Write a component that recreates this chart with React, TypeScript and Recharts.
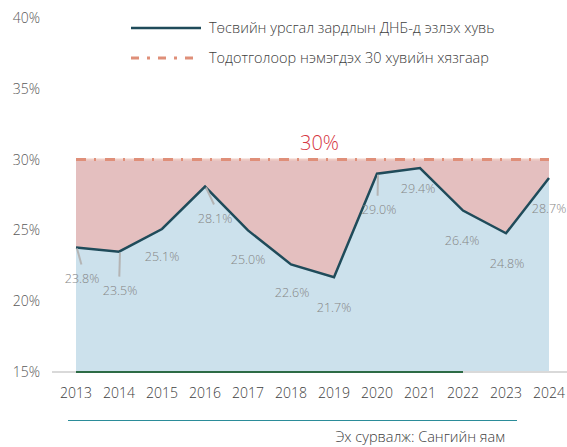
import { ComposedChart, Area, Line, XAxis, YAxis, ReferenceLine, LabelList } from 'recharts';

const years = ['2013', '2014', '2015', '2016', '2017', '2018', '2019', '2020', '2021', '2022', '2023', '2024'];
const shareOfGdp = [23.8, 23.5, 25.1, 28.1, 25.0, 22.6, 21.7, 29.0, 29.4, 26.4, 24.8, 28.7];
const limitValue = 30;
const baseYears = ['2013', '2014', '2015', '2016', '2017', '2018', '2019', '2020', '2021', '2022'];
const yTicks = [15, 20, 25, 30, 35, 40];

// label placement per point: [dx, dy, leader]
const labelOffsets: [number, number, boolean][] = [
  [6, 31, true], [1, 39, true], [0, 28, false], [10, 32, true],
  [0, 29, false], [1, 28, false], [0, 30, false], [2, 36, true],
  [-2, 20, false], [-1, 30, false], [1, 30, false], [0, 30, false],
];

const data = years.map((year, i) => ({
  year,
  value: shareOfGdp[i],
  gap: [shareOfGdp[i], limitValue],
  limit: limitValue,
  base: baseYears.includes(year) ? 15 : null,
}));

const font = '"Open Sans", "Noto Sans", sans-serif';

function PointLabel(props: any) {
  const { x, y, value, index } = props;
  const [dx, dy, leader] = labelOffsets[index];
  const lx = x + dx;
  const ly = y + dy;
  return (
    <g>
      {leader && (
        <line x1={x + 1} y1={y + 1} x2={x + (dx > 3 ? dx * 0.9 : dx * 0.3)} y2={ly - 14} stroke="#b4b4b4" strokeWidth={2} />
      )}
      <text x={lx} y={ly} textAnchor="middle" dominantBaseline="central" fill="#858585" fontSize={12.5} fontWeight={300} fontFamily={font}>
        {value.toFixed(1)}%
      </text>
    </g>
  );
}

export default function App() {
  return (
    <div style={{ position: 'absolute', left: 0, top: 0, width: 567, height: 447, background: '#fff', fontFamily: font, fontWeight: 300 }}>
      <ComposedChart width={567} height={410} data={data} margin={{ top: 18, right: 0, bottom: 0, left: 0 }}>
        <XAxis
          dataKey="year"
          scale="point"
          padding={{ left: 24, right: 18 }}
          height={38}
          tickLine={false}
          axisLine={false}
          tickMargin={10}
          tick={{ fill: '#404040', fontSize: 14, fontWeight: 300, fontFamily: font }}
          interval={0}
        />
        <YAxis
          width={52}
          domain={[15, 40]}
          ticks={yTicks}
          tickFormatter={(v: number) => `${v}%`}
          tickLine={false}
          axisLine={false}
          tickMargin={6}
          tick={{ fill: '#595959', fontSize: 14, fontWeight: 300, fontFamily: font }}
        />
        <Area dataKey="gap" stroke="none" fill="#e4bfbf" fillOpacity={1} isAnimationActive={false} />
        <Area dataKey="value" stroke="none" fill="#cce1ec" fillOpacity={1} isAnimationActive={false} />
        <ReferenceLine y={15} stroke="#d9d9d9" strokeWidth={2} />
        <Line dataKey="base" stroke="#2d6b45" strokeWidth={2} dot={false} isAnimationActive={false} />
        <Line dataKey="limit" stroke="#efcdc6" strokeWidth={2} dot={false} legendType="none" isAnimationActive={false} />
        <Line dataKey="limit" stroke="#df8f79" strokeWidth={3} strokeDasharray="10 8 2 9" dot={false} isAnimationActive={false} />
        <Line dataKey="value" stroke="#1f4b5a" strokeWidth={2.5} dot={false} isAnimationActive={false}>
          <LabelList dataKey="value" content={PointLabel} />
        </Line>
        <ReferenceLine
          y={limitValue}
          stroke="none"
          label={{ value: '30%', position: 'top', fill: '#d6363f', fontSize: 20, fontWeight: 300, fontFamily: font, dx: 10, offset: 10 }}
        />
      </ComposedChart>

      <div style={{ position: 'absolute', left: 131, top: 18, fontSize: 14.5, color: '#404040', lineHeight: '20px' }}>
        <div style={{ display: 'flex', alignItems: 'center', height: 20 }}>
          <svg width={70} height={6} style={{ marginRight: 8 }}>
            <line x1={0} y1={3} x2={70} y2={3} stroke="#1f4b5a" strokeWidth={2.5} />
          </svg>
          <span>Төсвийн урсгал зардлын ДНБ-д эзлэх хувь</span>
        </div>
        <div style={{ display: 'flex', alignItems: 'center', height: 20, marginTop: 10 }}>
          <svg width={70} height={6} style={{ marginRight: 8 }}>
            <line x1={0} y1={3} x2={70} y2={3} stroke="#df8f79" strokeWidth={3} strokeDasharray="8 8 3 8" />
          </svg>
          <span>Тодотголоор нэмэгдэх 30 хувийн хязгаар</span>
        </div>
      </div>

      <div style={{ position: 'absolute', left: 68, top: 420, width: 449, height: 0, borderTop: '1.5px solid #2b8c99' }} />
      <div style={{ position: 'absolute', right: 62, top: 427, fontSize: 14.5, color: '#404040', lineHeight: '20px' }}>
        Эх сурвалж: Сангийн яам
      </div>
    </div>
  );
}
